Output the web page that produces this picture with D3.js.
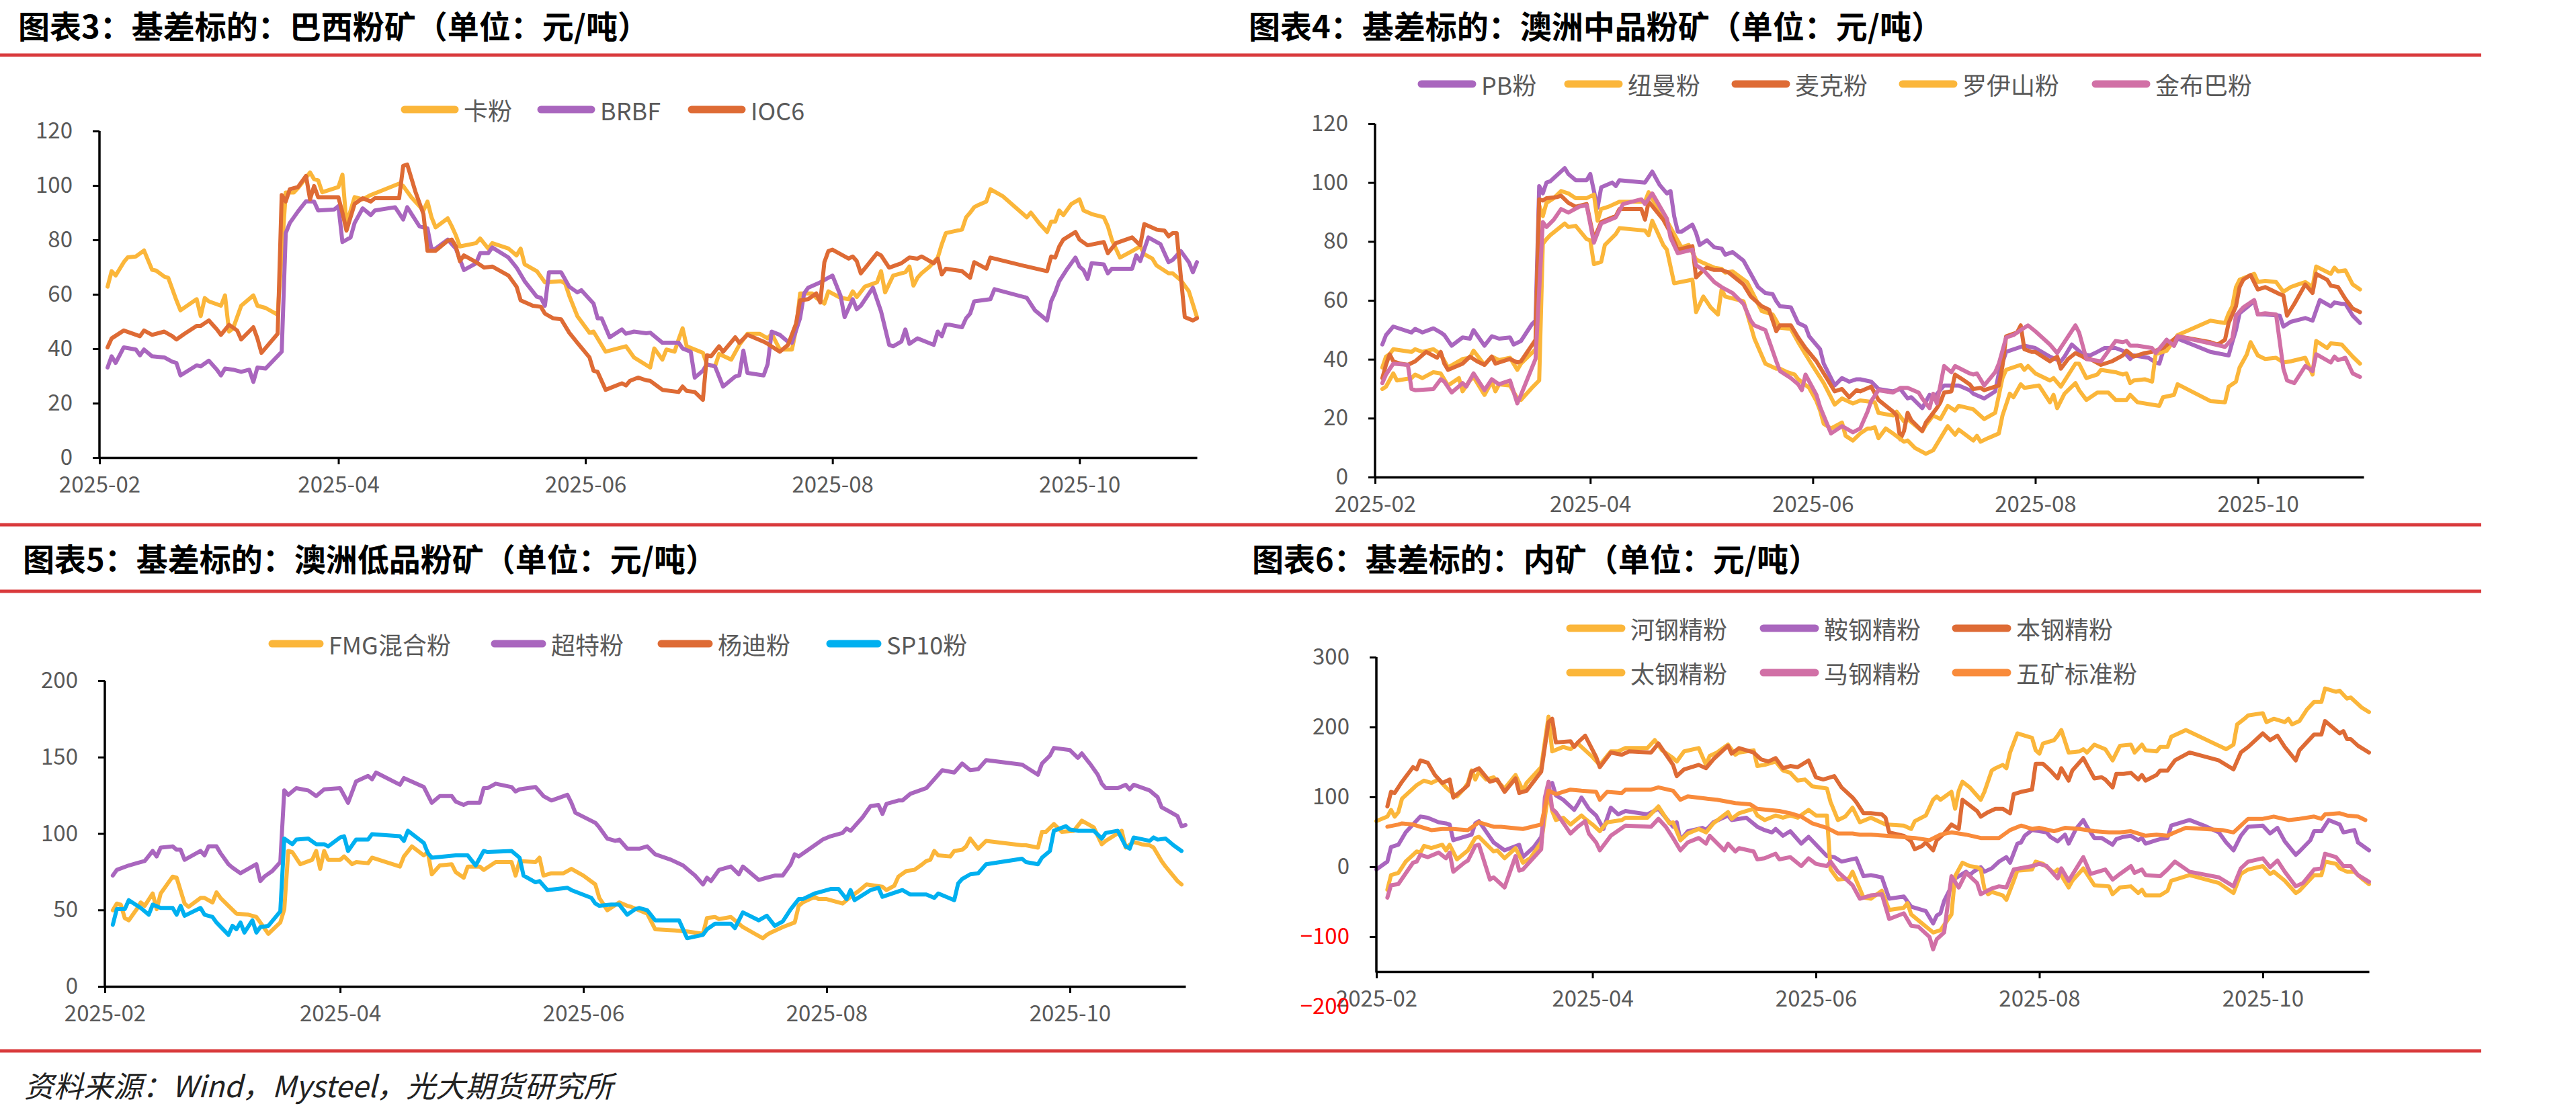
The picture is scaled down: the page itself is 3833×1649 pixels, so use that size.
<!DOCTYPE html>
<html>
<head>
<meta charset="utf-8">
<script src="https://cdn.jsdelivr.net/npm/d3@7"></script>
<style>
  body { margin: 0; background: #fff; }
  svg { display: block; font-family: "Noto Sans CJK SC", "Noto Sans", sans-serif; }
</style>
</head>
<body>
<svg id="chart" width="3833" height="1649"></svg>
<script>
// every series is [day, basis] with day counted from 2025-02-01
const monthTickLabels = ['2025-02', '2025-04', '2025-06', '2025-08', '2025-10'];

// ---- 图表3 巴西粉矿
const brazilNames = ['卡粉', 'BRBF', 'IOC6'];
const kaFen = [[2,62.8],[3,68.5],[4,66.9],[6,71.8],[7,73.6],[9,73.9],[11,76.1],[13,69],[14,68.7],[16,66.5],[17,66],[19,57.8],[20,54.1],[24,58.2],[25,52],[26,58.6],[27,57.4],[30,55.8],[31,59.6],[32,46.3],[33,47.5],[35,55.8],[38,59.6],[39,55.8],[41,55],[44,52.5],[46,97.4],[48,97.4],[49,99],[52,104.8],[53,102.3],[54,101.9],[55,97.5],[59,99.4],[60,104],[61,85.8],[63,95.7],[65,94.9],[67,96.5],[74,100.7],[75,99.8],[77,95.7],[80,90.8],[81,94.1],[82,88.3],[83,84.6],[86,87.9],[87,85],[88,81.7],[89,77.6],[93,78.8],[94,80.5],[96,76.8],[97,78.8],[101,76.8],[103,74.3],[104,76.8],[105,71],[108,68.5],[110,64.4],[114,64.8],[115,64],[116,59.5],[118,52],[121,45.9],[122,46.3],[125,38.9],[130,40.9],[132,36.8],[135,34],[136,33.1],[137,40.1],[139,36],[140,39.7],[142,38.9],[143,43.4],[144,47.5],[145,40.9],[149,38.5],[150,34.3],[152,33.5],[153,38.1],[156,36],[158,41.4],[160,45.5],[163,45.5],[165,43.8],[166,45.5],[168,39.7],[171,39.7],[172,47.1],[173,60.3],[176,60.3],[177,58.7],[179,56.6],[180,61.1],[181,60.3],[183,58.7],[185,58.2],[186,61.1],[187,59],[189,62.8],[192,64.4],[193,68.5],[194,60.7],[196,66.9],[199,68.1],[200,70.2],[201,63.2],[202,66.1],[203,67.7],[205,70.2],[207,73.5],[208,78.4],[209,82.5],[213,83.8],[214,88.3],[215,90],[216,92],[217,92.8],[219,94.1],[220,98.6],[223,96.1],[229,88.3],[230,90],[232,86.2],[234,82.9],[235,86.7],[236,86.7],[237,90.8],[238,89.1],[240,93.2],[242,94.9],[243,90.8],[245,89.5],[248,88.3],[249,85],[250,80],[252,73.5],[255,75.9],[257,77.6],[258,74.7],[260,73.1],[261,70.6],[264,67.7],[265,67.7],[267,65.2],[269,61.1],[271,51.6]];
const brbf = [[2,33.1],[3,37.2],[4,34.8],[6,40.5],[9,39.7],[10,37.6],[11,39.7],[13,37.2],[16,36.8],[18,35.2],[19,34.8],[20,30.2],[24,33.9],[25,33.5],[27,35.6],[29,32.3],[30,30.2],[31,32.7],[33,32.3],[35,31.5],[37,32.3],[38,27.8],[39,33.1],[41,32.7],[45,38.9],[46,82.5],[47,86.2],[49,90.4],[51,94.2],[53,94.1],[54,90.8],[58,91.2],[59,92.4],[60,79.2],[62,80.9],[63,86.2],[65,91.6],[67,89.1],[68,90.8],[73,92],[75,87.5],[76,92],[79,85],[81,84.2],[82,76.4],[83,76.8],[86,80.1],[88,76.8],[90,68.9],[93,71.4],[94,75.1],[96,75.1],[97,77.2],[101,73.5],[103,69.8],[105,64.8],[108,59.1],[109,58.7],[110,55.8],[111,68.1],[114,68.1],[116,62.8],[118,60.7],[119,61.5],[122,56.6],[123,51.2],[124,51.2],[126,44.2],[129,47.1],[130,45.5],[132,46.3],[135,45.7],[136,45.9],[139,42.2],[143,42.2],[144,40.1],[146,38.9],[147,29.4],[149,31.9],[150,34.3],[152,33.5],[154,26.1],[157,29.8],[158,30.2],[159,39.3],[160,31.1],[164,30.2],[165,34.3],[166,46.3],[168,45.1],[170,42.6],[171,42.2],[173,51.2],[174,60.3],[175,62.4],[178,64.4],[180,66.1],[181,66.9],[183,59.5],[184,51.6],[186,58.2],[187,54.5],[188,55.8],[191,62.4],[193,53.7],[195,41.4],[196,40.9],[198,42.6],[199,47.1],[200,41.8],[202,43.8],[206,41.4],[207,46.3],[208,44.6],[209,48.8],[210,48.8],[213,47.9],[214,51.2],[215,52.9],[216,57.4],[220,58.2],[221,61.9],[229,58.7],[231,54.1],[234,50.4],[235,57.4],[236,60.7],[237,64.8],[239,69.4],[241,73.5],[242,70.2],[243,68.9],[244,65.7],[245,71.4],[248,71],[249,67.7],[250,69.4],[255,69.4],[256,74.3],[257,72.2],[259,80.9],[262,78.4],[264,71.8],[265,72.6],[267,75.9],[269,71.8],[270,68.1],[271,71.8]];
const ioc6 = [[2,40.5],[3,43.8],[6,46.7],[10,44.6],[11,46.7],[13,45.1],[16,46.3],[18,44.6],[19,43.4],[21,45.5],[24,48.4],[25,48.4],[27,50.4],[29,47.1],[30,45.1],[32,48.8],[34,46.7],[35,43.4],[38,47.9],[39,43.8],[40,38.5],[44,45.5],[45,96.5],[46,94.1],[47,98.6],[49,99.4],[51,103.5],[52,94.9],[53,99.8],[54,95.7],[59,95.7],[60,90],[61,83.4],[63,93.2],[65,95.3],[67,94.1],[68,95.3],[74,95.3],[75,107.2],[76,107.7],[78,97.8],[80,89.5],[81,76],[83,76],[86,79.7],[87,80.1],[88,77.6],[89,72.2],[90,74.3],[93,71.8],[95,69.8],[97,70.2],[101,66.9],[103,62.8],[104,57.8],[107,55.8],[109,55.4],[110,52.9],[112,51.2],[114,50.8],[116,45.9],[118,42.2],[121,36.8],[122,31.9],[123,31.5],[125,24.9],[129,27.3],[130,26.5],[131,28.2],[133,29.4],[135,28.4],[136,28.2],[139,24.9],[143,24.1],[144,26.1],[145,24.5],[147,24.1],[149,21.2],[150,37.6],[151,37.2],[153,40.9],[154,38.9],[157,44.2],[158,42.2],[160,45.1],[164,42.6],[165,41.8],[168,38.9],[170,41.4],[172,49.2],[173,57.8],[175,58.2],[177,60.3],[178,57],[179,71.8],[180,75.9],[181,76.4],[185,73.1],[186,73.9],[187,72.2],[188,67.7],[190,71.4],[192,75.1],[193,74.3],[195,69.8],[198,71.4],[200,73.5],[202,73.1],[203,73.9],[206,71.4],[207,73.1],[208,67.3],[209,69.4],[213,68.5],[215,66.1],[216,71.8],[219,69.4],[220,73.5],[229,70.2],[234,68.5],[235,73.9],[236,73.5],[237,77.6],[238,80.1],[241,82.9],[242,80.1],[244,78],[248,79.2],[249,75.1],[251,78.8],[255,80.9],[257,78],[258,85.8],[261,83.8],[263,83.4],[264,81.3],[265,82.5],[266,82.5],[267,66.9],[268,51.6],[270,50.4],[271,51.2]];

// ---- 图表4 澳洲中品粉矿
const ausMidNames = ['PB粉', '纽曼粉', '麦克粉', '罗伊山粉', '金布巴粉'];
const pbFen = [[2,45],[3,48.2],[5,51.1],[10,49.1],[11,50.3],[13,49.1],[16,50.5],[18,49.1],[19,48.2],[21,44.6],[24,47.4],[26,47],[27,49.9],[30,44.6],[32,47.8],[34,47],[37,47.4],[38,45],[40,46.2],[43,51.9],[44,53.1],[45,98.8],[46,96.3],[47,100],[48,100.4],[52,104.9],[53,102.9],[55,100.8],[58,100.8],[59,102.9],[61,91.4],[62,98.4],[65,100],[66,98.8],[67,100.8],[74,100],[76,103.7],[78,99.2],[80,96.3],[81,97.1],[82,88.6],[83,83.3],[84,83.3],[87,85.7],[88,82.9],[89,78.8],[91,80.4],[93,78],[95,77.6],[96,75.5],[98,76.4],[101,73.5],[103,69],[105,64.5],[107,62.5],[109,62.1],[110,59.7],[111,58],[114,57.6],[116,52.3],[118,51.1],[119,47.8],[122,43.4],[123,38.5],[126,31.1],[128,33.6],[130,32.4],[132,33.2],[133,33.2],[136,32.4],[138,29.9],[142,29.1],[144,29.9],[146,26.7],[147,27.1],[150,23.4],[152,27.9],[153,26.7],[156,31.1],[160,31.1],[163,29.5],[164,28.3],[167,26.7],[170,29.1],[171,35.2],[173,42.5],[178,44.6],[181,43.8],[185,40.9],[188,39.3],[189,40.9],[191,45],[194,41.7],[196,41.3],[198,42.5],[200,43.8],[203,43.8],[205,42.9],[207,40.1],[208,41.3],[212,40.5],[214,38.9],[215,38.5],[217,46.6],[219,44.6],[220,47],[229,42.5],[234,41.3],[235,45.8],[236,49.9],[237,55.6],[239,57.6],[241,59.7],[242,55.2],[244,55.2],[248,54.8],[249,51.1],[251,52.7],[255,54],[257,53.1],[259,60.1],[262,58],[263,59.3],[265,58.8],[266,58.8],[268,54.8],[270,52.3]];
const niuMan = [[2,37.2],[3,40.9],[4,41.7],[5,43.4],[10,42.5],[11,43.4],[13,42.5],[16,43.4],[18,41.7],[20,37.2],[24,40.1],[26,40.5],[27,42.9],[30,38.1],[32,40.9],[34,39.7],[37,40.5],[39,36.4],[40,38.5],[44,43.4],[45,92.3],[46,88.6],[47,93.1],[49,94.7],[51,97.1],[53,96.3],[55,94.7],[58,94.7],[60,95.9],[61,87],[62,91],[64,91.8],[67,93.5],[74,93.5],[75,96.7],[77,92.3],[80,87],[82,82.5],[84,78],[86,78.8],[88,73.9],[90,72.7],[93,71.1],[95,70.7],[96,69.4],[98,69.8],[102,66.2],[104,61.3],[106,56.4],[109,55.2],[110,53.1],[111,50.7],[114,50.3],[116,45.8],[118,41.7],[120,37.7],[123,31.9],[126,24.6],[128,26.7],[131,25],[133,26],[137,25.4],[138,21.8],[142,20.9],[143,22.2],[145,18.9],[146,19.7],[150,15.6],[151,17.7],[153,20.9],[155,19.7],[157,24.2],[159,22.6],[160,24.2],[164,23],[167,19.7],[170,21.8],[172,33.6],[173,36.4],[177,38.1],[178,36.4],[179,37.7],[181,35.2],[185,32.8],[186,33.6],[188,30.7],[192,38.5],[193,38.5],[195,33.6],[198,34.8],[199,36.4],[203,35.6],[205,34.8],[206,35.2],[207,31.9],[208,32.8],[211,33.2],[213,32.4],[214,41.7],[217,42.9],[220,48.2],[229,53.1],[233,52.3],[234,55.6],[235,58],[236,64.5],[237,67],[241,69],[242,66.2],[244,66.6],[247,66.2],[249,62.9],[251,64.5],[253,65.4],[255,66.2],[257,64.5],[258,71.5],[262,69],[263,71.1],[264,69.8],[266,70.2],[268,65.4],[270,63.7]];
const maiKe = [[2,33.6],[3,38.1],[4,41.7],[5,39.3],[7,38.5],[9,38.1],[11,39.3],[14,42.5],[17,40.5],[18,42.5],[19,38.5],[20,36.4],[24,38.5],[26,40.9],[28,39.3],[30,38.1],[32,40.9],[33,38.5],[37,40.1],[39,38.9],[40,39.3],[44,46.6],[45,94.3],[46,93.9],[47,94.7],[50,95.1],[51,95.5],[53,93.1],[55,91.8],[58,92.7],[60,80.8],[62,86.6],[66,88.6],[67,91],[73,91],[74,87.4],[75,93.5],[79,87.4],[81,82.9],[83,77.2],[87,78.4],[88,67.8],[90,70.3],[91,71.1],[93,70.3],[95,70.3],[97,69.4],[101,65.4],[103,61.3],[106,58],[108,56.8],[110,49.5],[111,51.5],[114,51.5],[116,47.4],[118,43.8],[121,39.3],[124,33.2],[126,29.1],[128,29.9],[130,27.1],[132,29.5],[133,29.1],[136,30.7],[138,26.2],[140,24.2],[142,22.2],[143,20.9],[144,12.8],[145,15.6],[146,21.8],[147,19.3],[150,15.6],[151,18.5],[154,23.4],[155,25.4],[156,28.7],[158,29.1],[159,34.8],[161,33.2],[163,31.5],[164,29.9],[166,30.3],[167,29.5],[171,31.1],[172,37.7],[173,47.8],[176,49.1],[177,51.5],[178,43.4],[180,42.5],[181,42.5],[185,39.3],[187,40.9],[188,36.8],[190,40.1],[192,42.1],[194,40.9],[195,40.1],[196,40.1],[199,38.1],[200,38.5],[202,39.3],[205,41.3],[206,42.9],[208,40.9],[211,42.1],[213,42.5],[216,43.8],[220,47.8],[229,45.8],[231,45],[233,46.6],[234,52.3],[236,58],[237,64.5],[238,67],[240,68.6],[242,63.7],[244,64.5],[248,62.1],[249,61.7],[250,54.8],[252,58.8],[255,65.4],[257,62.5],[258,69],[261,67],[262,65],[264,64.5],[266,60.5],[268,57.2],[270,56]];
const royHill = [[2,29.9],[3,30.7],[5,35.2],[6,32.8],[10,33.6],[11,34.8],[13,33.6],[16,35.6],[18,35.2],[20,31.1],[23,33.6],[24,29.1],[26,32.8],[27,34],[30,27.9],[32,32.4],[33,29.1],[34,31.5],[37,31.1],[39,26.7],[40,26.2],[43,30.3],[45,32.8],[46,79.2],[47,80.8],[48,82.1],[52,86.1],[53,84.9],[55,85.3],[58,80.8],[59,80.4],[60,72.3],[62,73.1],[63,78.8],[66,82.5],[67,84.5],[74,83.7],[75,82.1],[76,87],[79,78.8],[80,77.2],[82,65.8],[87,67],[88,56],[90,61.3],[92,57.6],[94,55.2],[95,63.7],[96,61.3],[101,59.7],[102,55.6],[104,47],[107,38.5],[110,36.8],[111,36.8],[113,35.6],[115,34.8],[116,33.2],[119,30.3],[121,25.8],[122,22.6],[123,18.1],[125,16.5],[128,18.5],[129,14],[131,12.4],[133,14.8],[135,16.5],[136,16.5],[137,16.9],[138,13.2],[140,16.5],[142,14.8],[145,12],[146,12.4],[148,9.9],[151,7.9],[153,9.1],[157,17.3],[159,14.4],[160,16.1],[164,12.4],[165,14],[166,12],[168,13.2],[171,14.8],[172,20.9],[174,28.3],[175,27.1],[177,31.5],[178,30.3],[180,30.7],[182,31.1],[185,25.4],[186,27.9],[187,23.4],[189,28.3],[192,31.9],[193,29.5],[195,26.2],[198,28.7],[201,28.7],[203,26.2],[206,26.2],[207,27.9],[209,25.4],[213,24.6],[215,24.2],[216,27.1],[219,27.9],[220,31.5],[229,25.8],[233,25.4],[234,30.7],[236,32.4],[237,37.2],[239,41.7],[240,45.8],[242,41.3],[244,40.1],[247,40.5],[249,38.9],[251,39.3],[255,40.5],[257,34.8],[258,46.2],[261,43.8],[262,45.4],[265,45],[268,40.9],[270,38.5]];
const jinBuBa = [[2,31.9],[3,34.8],[5,38.5],[9,38.1],[10,29.9],[11,29.5],[16,29.9],[18,33.2],[19,32.4],[21,28.7],[24,31.9],[25,30.7],[27,35.2],[30,29.5],[32,33.2],[34,31.5],[37,32.8],[39,25],[40,27.9],[44,40.1],[46,86.6],[47,84.9],[49,87.4],[51,91],[53,89.8],[56,91.8],[58,92.3],[60,79.6],[62,86.1],[66,88.2],[68,92.7],[73,94.3],[74,92.7],[76,96.3],[80,87.8],[81,81.3],[83,76],[87,77.2],[88,71.9],[90,70.3],[93,66.2],[95,64.5],[98,62.5],[101,58.8],[103,53.1],[104,51.5],[107,49.9],[110,39.3],[111,36],[114,33.6],[116,31.5],[117,29.5],[118,34.8],[121,27.9],[122,23.8],[125,14.8],[128,17.3],[131,15.2],[133,16.5],[135,22.2],[136,25.8],[138,29.5],[142,28.7],[144,30.3],[146,30.3],[149,28.7],[150,26.7],[152,23.4],[153,28.3],[154,25],[156,37.7],[158,35.6],[159,37.7],[163,35.2],[164,34.8],[165,35.2],[167,31.1],[170,35.6],[171,38.5],[173,47.4],[175,48.2],[177,49.9],[179,51.5],[181,49.5],[185,45],[187,42.1],[192,51.5],[193,49.1],[195,40.1],[199,39.3],[203,46.2],[205,45.8],[206,46.2],[207,44.6],[209,44.6],[213,43.8],[214,42.1],[217,46.6],[219,44.6],[220,47.8],[229,45.4],[233,44.2],[235,47],[236,54.8],[238,57.6],[241,60.1],[242,55.2],[244,55.6],[247,55.2],[249,36.8],[250,32.8],[252,31.9],[255,37.7],[257,36],[258,41.7],[262,38.9],[263,40.9],[264,39.7],[266,40.5],[268,35.2],[270,34]];

// ---- 图表5 澳洲低品粉矿
const ausLowNames = ['FMG混合粉', '超特粉', '杨迪粉', 'SP10粉'];
const fmgMix = [[2,49.8],[3,54.2],[4,53.5],[5,44.7],[6,43.2],[8,50.5],[9,54.9],[10,52.7],[12,60.8],[13,50.5],[14,60.8],[17,71.8],[18,71.1],[20,54.2],[21,52],[24,57.9],[25,57.9],[27,54.9],[28,61.5],[29,57.9],[31,52.7],[33,47.6],[36,46.9],[38,45.4],[39,41.8],[41,34.4],[44,41.8],[45,50.5],[46,88.6],[47,87.9],[49,79.9],[52,82.8],[53,88.6],[54,76.9],[55,88.6],[56,82.8],[59,82.8],[60,85],[62,79.9],[63,81.3],[66,80.6],[67,84.2],[74,78.4],[75,85],[77,91.6],[80,85.7],[81,87.9],[82,73.3],[84,79.1],[87,79.9],[88,74.7],[90,71.1],[91,78.4],[94,78.4],[95,76.2],[98,81.3],[102,81.3],[103,72.5],[104,82],[108,81.3],[109,84.2],[110,72.5],[112,74],[115,74],[117,76.9],[120,72.5],[123,66.7],[124,57.9],[126,49.8],[129,54.9],[131,52.7],[132,52],[134,49.8],[136,47.6],[138,37.4],[143,36.6],[146,35.9],[150,34.4],[151,44.7],[153,45.4],[154,44],[157,45.4],[158,43.2],[160,38.8],[163,34.4],[165,31.5],[166,33.7],[167,35.2],[170,38.8],[173,41.8],[174,52.7],[175,54.9],[178,58.6],[179,57.1],[181,57.1],[185,54.2],[187,58.6],[189,62.3],[191,66.7],[195,65.2],[196,63],[198,65.9],[199,71.8],[201,75.5],[203,76.2],[205,79.9],[206,82],[207,82.8],[208,88.6],[209,85.7],[212,85],[213,88.6],[215,89.4],[216,91.6],[217,96.7],[219,90.1],[221,95.2],[230,92.3],[231,92.3],[234,90.8],[235,101.1],[236,101.1],[238,106.2],[240,101.1],[243,101.8],[245,108.4],[248,104],[250,93],[251,95.2],[255,101.8],[256,90.8],[258,94.5],[260,93],[262,92.3],[263,90.8],[265,82],[266,78.4],[269,68.9],[270,66.7]];
const chaoTe = [[2,72.5],[3,76.2],[6,79.1],[8,80.6],[10,82],[12,88.6],[13,85],[14,90.8],[17,91.6],[18,89.4],[19,89.4],[20,82.8],[24,88.6],[25,85.7],[26,91.6],[28,91.6],[29,87.2],[31,79.9],[32,77.7],[34,74],[38,79.9],[39,68.9],[40,71.8],[42,75.5],[44,81.3],[45,128.2],[46,125.3],[48,129.7],[51,128.2],[53,124.5],[55,128.9],[59,129.7],[61,120.1],[63,134.1],[66,137.7],[67,135.5],[68,139.9],[74,131.9],[75,136.3],[80,130.4],[82,120.1],[84,124.5],[87,124.5],[88,120.9],[90,118.7],[91,120.1],[94,120.1],[95,129.7],[96,129.7],[98,132.6],[102,130.4],[103,127.5],[104,128.9],[108,130.4],[110,124.5],[112,121.6],[116,125.3],[117,120.1],[118,113.6],[123,107],[124,104],[126,96.7],[128,95.2],[129,96],[131,90.1],[134,90.1],[136,91.6],[138,86.4],[142,82.8],[145,79.1],[148,72.5],[150,66.7],[151,71.1],[152,68.9],[154,76.2],[157,78.4],[159,73.3],[160,78.4],[164,69.6],[166,71.1],[168,72.5],[170,72.5],[172,79.9],[173,86.4],[174,85],[178,92.3],[180,96],[182,98.2],[185,100.4],[186,103.3],[187,101.8],[190,110.6],[192,117.9],[194,118.7],[195,112.8],[196,119.4],[199,121.6],[200,121.6],[202,126],[206,129.7],[208,135.5],[210,141.4],[213,139.9],[215,145.8],[217,141.4],[219,142.1],[221,148],[230,145.1],[234,138.5],[235,145.8],[237,150.9],[238,156],[242,154.6],[244,149.5],[245,152.4],[247,145.8],[249,138.5],[250,132.6],[251,129.7],[254,129.7],[256,131.9],[257,128.9],[258,131.9],[262,128.2],[264,123.8],[265,117.2],[267,114.3],[269,111.4],[270,104.8],[271,105.5]];
const yangDi = []; // listed in the legend, no line visible in the chart
const sp10 = [[2,40.3],[3,50.5],[5,50.5],[6,56.4],[9,51.3],[11,46.9],[12,53.5],[14,51.3],[17,51.3],[18,46.9],[19,52.7],[20,46.2],[24,51.3],[25,46.9],[27,45.4],[28,41.8],[31,33.7],[32,39.6],[33,37.4],[34,41.8],[35,35.2],[37,43.2],[38,35.2],[39,38.8],[41,39.6],[44,49.1],[45,96.7],[47,93],[48,96],[51,96.7],[53,93],[55,93],[56,91.6],[59,97.4],[60,98.2],[61,88.6],[63,96],[66,96],[67,99.6],[74,98.2],[75,95.2],[76,101.8],[80,93.8],[81,87.2],[82,84.2],[88,85.7],[91,85.7],[93,79.1],[95,88.6],[96,87.9],[102,88.6],[104,84.2],[105,72.5],[108,68.1],[109,68.9],[111,63],[116,64.5],[117,63],[122,57.9],[123,54.2],[124,52.7],[127,53.5],[129,53.5],[131,46.9],[133,50.5],[134,51.3],[136,49.8],[138,43.2],[144,43.2],[146,31.5],[150,33.7],[151,37.4],[153,41],[157,41],[158,38.1],[160,48.4],[164,43.2],[166,46.2],[168,39.6],[170,42.5],[172,50.5],[174,57.1],[175,57.1],[178,60.8],[179,61.5],[182,63.7],[184,63.7],[186,57.1],[187,63],[188,56.4],[192,63],[194,64.5],[195,58.6],[200,63],[202,60.1],[206,60.1],[208,57.9],[209,60.8],[213,56.4],[214,67.4],[215,70.3],[217,73.3],[219,74],[221,79.9],[230,83.5],[231,81.3],[234,79.9],[235,84.2],[237,88.6],[238,101.8],[241,104.8],[242,102.6],[244,101.8],[248,101.8],[250,96.7],[251,100.4],[254,101.8],[256,91.6],[257,90.1],[258,97.4],[262,95.2],[263,97.4],[264,96],[266,96.7],[268,92.3],[270,88.6]];

// ---- 图表6 内矿
const domesticNames = ['河钢精粉', '鞍钢精粉', '本钢精粉', '太钢精粉', '马钢精粉', '五矿标准粉'];
const heGang = [[0,65.3],[3,71.8],[4,81.4],[5,71.8],[6,78.2],[7,97.5],[11,116.8],[13,123.3],[15,120],[17,124.9],[19,113.6],[20,108.8],[22,100.7],[24,112],[25,120],[26,137.8],[27,124.9],[28,136.1],[30,124.9],[32,128.1],[35,112],[38,131.3],[40,108.8],[41,120],[45,142.6],[47,215],[48,165.1],[51,171.5],[53,168.3],[55,176.4],[56,171.5],[59,157.1],[61,145.8],[64,165.1],[66,165.1],[68,169.9],[74,169.9],[76,181.2],[78,166.7],[81,155.5],[82,150.6],[84,165.1],[88,169.9],[90,145.8],[91,158.7],[93,163.5],[96,174.8],[98,160.3],[99,163.5],[103,166.7],[104,144.2],[106,145.8],[109,150.6],[111,137.8],[113,134.5],[115,123.3],[117,124.9],[119,115.2],[123,112],[124,92.7],[126,66.9],[128,71.8],[130,84.6],[132,63.7],[135,70.2],[139,60.5],[144,58.9],[146,54.1],[147,65.3],[150,73.4],[152,95.9],[153,100.7],[154,95.9],[157,107.2],[158,83],[159,108.8],[160,121.7],[162,113.6],[165,95.9],[166,107.2],[168,137.8],[169,141],[171,145.8],[172,141],[173,163.5],[175,190.9],[176,189.3],[179,184.4],[180,166.7],[181,161.9],[182,176.4],[185,181.2],[186,187.6],[187,195.7],[189,163.5],[192,165.1],[193,168.3],[194,163.5],[196,174.8],[199,168.3],[201,152.2],[203,173.2],[206,174.8],[207,163.5],[209,174.8],[210,166.7],[213,165.1],[214,171.5],[216,171.5],[217,186],[221,195.7],[232,168.3],[234,174.8],[235,203.7],[237,211.8],[238,216.6],[242,219.8],[243,207],[245,211.8],[248,207],[249,211.8],[250,203.7],[252,208.6],[254,224.7],[256,235.9],[258,235.9],[259,255.2],[262,250.4],[263,252],[265,240.7],[266,242.3],[269,227.9],[271,221.4]];
const anGang = [[0,-3.9],[3,7.4],[4,28.3],[6,31.5],[8,49.2],[10,60.5],[12,71.8],[14,70.2],[17,63.7],[19,62.1],[20,60.5],[21,38],[26,46],[27,62.1],[28,65.3],[32,34.8],[35,23.5],[39,31.5],[40,13.8],[43,28.3],[45,42.8],[47,116.8],[48,120],[49,102.3],[51,95.9],[54,81.4],[55,89.5],[56,99.1],[58,83],[60,73.4],[62,54.1],[64,84.6],[66,75],[68,79.8],[74,75],[77,83],[79,70.2],[81,57.3],[82,63.7],[83,38],[85,50.9],[89,55.7],[90,52.5],[92,63.7],[96,73.4],[97,66.9],[101,70.2],[104,57.3],[106,52.5],[108,49.2],[109,54.1],[111,44.4],[113,50.9],[116,33.1],[118,42.8],[123,15.4],[125,13.8],[127,7.4],[131,12.2],[133,-13.5],[135,-11.9],[138,-15.1],[140,-45.7],[144,-42.5],[146,-57],[150,-63.4],[152,-81.1],[153,-69.8],[154,-66.6],[155,-48.9],[157,-28],[158,-16.7],[161,-7.1],[162,-11.9],[163,-7.1],[165,-0.6],[166,-7.1],[168,-2.3],[170,7.4],[172,13.8],[173,5.8],[175,33.1],[176,34.8],[177,44.4],[179,52.5],[181,50.9],[183,49.2],[184,42.8],[186,36.4],[188,46],[189,33.1],[191,54.1],[193,66.9],[194,57.3],[196,41.2],[198,41.2],[201,31.5],[202,39.6],[204,42.8],[206,44.4],[208,38],[209,41.2],[210,33.1],[213,38],[214,39.6],[216,41.2],[217,58.9],[222,66.9],[226,58.9],[230,49.2],[232,34.8],[234,23.5],[236,44.4],[238,57.3],[242,58.9],[244,47.6],[246,55.7],[248,36.4],[251,17.1],[252,21.9],[255,38],[256,50.9],[258,50.9],[260,66.9],[263,60.5],[264,49.2],[267,52.5],[268,34.8],[271,23.5]];
const benGang = [[3,86.3],[4,107.2],[5,105.6],[7,121.7],[10,142.6],[11,139.4],[12,152.2],[14,149],[16,131.3],[18,120],[20,124.9],[21,99.1],[24,112],[25,116.8],[26,136.1],[28,141],[31,121.7],[33,124.9],[35,107.2],[38,126.5],[39,105.6],[41,108.8],[45,136.1],[47,207],[48,211.8],[49,178],[53,179.6],[54,171.5],[55,178],[57,187.6],[60,157.1],[61,142.6],[64,163.5],[67,160.3],[69,165.1],[75,163.5],[77,176.4],[81,145.8],[82,129.7],[84,139.4],[88,145.8],[90,141],[92,153.8],[96,173.2],[97,161.9],[99,169.9],[103,163.5],[105,153.8],[107,150.6],[109,155.5],[111,141],[113,144.2],[115,142.6],[118,152.2],[120,128.1],[122,124.9],[125,129.7],[127,113.6],[130,99.1],[131,92.7],[133,76.6],[135,76.6],[138,75],[139,70.2],[140,49.2],[144,44.4],[146,36.4],[147,25.1],[149,29.9],[150,34.8],[152,23.5],[153,38],[155,47.6],[157,60.5],[159,54.1],[160,95.9],[162,87.9],[164,79.8],[165,71.8],[167,78.2],[169,83],[171,83],[173,76.6],[174,104],[176,107.2],[179,110.4],[180,147.4],[182,147.4],[184,137.8],[186,126.5],[187,141],[189,123.3],[190,137.8],[193,155.5],[194,145.8],[196,126.5],[198,128.1],[199,124.9],[201,113.6],[202,132.9],[204,132.9],[206,134.5],[208,124.9],[209,131.3],[210,123.3],[213,131.3],[214,137.8],[216,137.8],[218,152.2],[222,163.5],[230,152.2],[234,139.4],[236,163.5],[238,171.5],[242,190.9],[244,181.2],[246,187.6],[248,171.5],[251,152.2],[252,166.7],[256,189.3],[258,189.3],[259,208.6],[263,190.9],[264,194.1],[265,182.8],[266,182.8],[268,173.2],[271,163.5]];
const taiGang = [[3,-32.8],[4,-11.9],[6,-8.7],[8,7.4],[11,21.9],[12,20.3],[13,29.9],[15,26.7],[18,31.5],[19,23.5],[20,31.5],[22,10.6],[25,23.5],[27,41.2],[28,42.8],[32,21.9],[33,23.5],[35,12.2],[38,26.7],[40,5.8],[42,12.2],[45,34.8],[47,107.2],[48,79.8],[49,66.9],[51,70.2],[53,60.5],[56,73.4],[57,68.6],[59,60.5],[61,50.9],[63,63.7],[67,66.9],[68,70.2],[74,70.2],[77,86.3],[80,62.1],[81,63.7],[83,38],[85,47.6],[88,54.1],[90,49.2],[92,62.1],[96,78.2],[97,68.6],[99,76.6],[103,83],[104,73.4],[106,66.9],[109,73.4],[111,70.2],[113,73.4],[115,70.2],[118,81.4],[120,73.4],[123,73.4],[124,-3.9],[126,-18.3],[129,-16.7],[130,-7.1],[133,-44.1],[135,-45.7],[138,-34.4],[140,-61.8],[144,-58.6],[145,-52.1],[146,-68.2],[149,-81.1],[152,-94],[154,-90.8],[157,-68.2],[158,-13.5],[160,5.8],[162,1],[164,-0.6],[165,-3.9],[166,-31.2],[167,-39.3],[168,-36],[171,-40.9],[172,-47.3],[174,-20],[175,-5.5],[179,-3.9],[180,7.4],[182,4.2],[185,-8.7],[186,-3.9],[189,-29.6],[190,-20],[193,-2.3],[194,-10.3],[196,-26.4],[200,-28],[201,-39.3],[203,-29.6],[206,-28],[208,-37.6],[209,-32.8],[210,-40.9],[214,-40.9],[216,-34.4],[217,-20],[222,-11.9],[230,-23.2],[234,-37.6],[236,-10.3],[238,-3.9],[242,1],[244,-10.3],[245,-7.1],[248,-20],[251,-37.6],[252,-34.4],[256,-11.9],[258,-11.9],[259,7.4],[262,4.2],[263,-2.3],[265,-7.1],[267,-7.1],[269,-16.7],[271,-24.8]];
const maGang = [[3,-44.1],[4,-26.4],[6,-24.8],[10,5.8],[11,7.4],[12,17.1],[14,13.8],[17,20.3],[19,12.2],[20,20.3],[21,-7.1],[24,5.8],[25,9],[27,29.9],[28,31.5],[31,-18.3],[32,-15.1],[35,-29.6],[38,15.4],[39,-5.5],[40,-3.9],[45,25.1],[46,99.1],[47,121.7],[48,83],[49,78.2],[53,47.6],[55,57.3],[57,65.3],[58,47.6],[60,34.8],[61,23.5],[64,44.4],[68,58.9],[75,57.3],[77,68.6],[79,57.3],[81,41.2],[83,23.5],[85,34.8],[88,41.2],[90,33.1],[91,44.4],[95,23.5],[96,33.1],[98,21.9],[99,26.7],[103,21.9],[104,10.6],[106,12.2],[109,18.7],[110,10.6],[113,13.8],[116,1],[118,12.2],[120,4.2],[123,1],[124,7.4],[126,-7.1],[130,-26.4],[132,-45.7],[135,-40.9],[138,-39.3],[140,-74.7],[144,-66.6],[146,-84.3],[148,-85.9],[151,-100.4],[152,-118.1],[153,-103.6],[155,-94],[157,-13.5],[159,-29.6],[161,-8.7],[164,-23.2],[165,-39.3],[168,-31.2],[170,-28],[172,-29.6],[174,-3.9],[179,1],[181,4.2],[183,1],[186,-16.7],[187,-2.3],[189,-20],[193,13.8],[195,-10.3],[199,-3.9],[201,-18.3],[203,-10.3],[206,1],[207,-8.7],[209,-3.9],[210,-11.9],[214,-13.5],[216,-3.9],[218,7.4],[222,-7.1],[230,-15.1],[234,-28],[236,-2.3],[238,7.4],[242,12.2],[244,-0.6],[246,9],[248,-7.1],[251,-28],[253,-23.2],[256,-3.9],[258,-2.3],[259,18.7],[262,13.8],[264,1],[266,1],[268,-11.9],[271,-21.5]];
const wuKuang = [[3,57.3],[6,60.5],[7,62.1],[10,60.5],[13,55.7],[15,52.5],[18,54.1],[21,54.1],[25,52.5],[28,63.7],[32,57.3],[34,57.3],[40,54.1],[45,60.5],[47,108.8],[49,104],[53,110.4],[56,108.8],[60,107.2],[61,95.9],[63,107.2],[67,105.6],[68,110.4],[75,110.4],[77,113.6],[81,108.8],[83,95.9],[85,100.7],[90,97.5],[93,95.9],[98,91.1],[102,89.5],[104,83],[110,79.8],[113,76.6],[116,71.8],[119,62.1],[123,55.7],[126,47.6],[130,47.6],[132,46],[135,46],[139,44.4],[143,42.8],[147,41.2],[151,38],[154,46],[157,49.2],[161,46],[165,41.2],[170,41.2],[173,52.5],[176,58.9],[179,54.1],[181,55.7],[185,50.9],[188,55.7],[192,54.1],[196,50.9],[200,49.2],[203,49.2],[206,50.9],[210,44.4],[213,46],[216,44.4],[218,49.2],[221,55.7],[231,52.5],[234,49.2],[236,58.9],[238,68.6],[242,68.6],[245,71.8],[249,66.9],[252,68.6],[256,71.8],[258,68.6],[259,75],[263,76.6],[265,73.4],[268,71.8],[270,66.9]];

const YELLOW = '#FBB63A', PURPLE = '#A966BE', RUST = '#DE6B35', PINK = '#D170A6', CYAN = '#00B0F0', ORANGE = '#F98B3B';
const RED_RULE = '#D93A3C', TEXT_GREY = '#595959';

const svg = d3.select('#chart');
const day0 = new Date(2025, 1, 1);
const dayEnd = new Date(2025, 9, 30);
const toDate = d => d3.timeDay.offset(day0, d);
const monthTicks = [1, 3, 5, 7, 9].map(m => new Date(2025, m, 1));

svg.append('rect').attr('width', 3833).attr('height', 1649).attr('fill', '#fff');

// red rules
[82, 781, 880, 1564].forEach(yy => {
  svg.append('line')
    .attr('x1', 0).attr('x2', 3692)
    .attr('y1', yy).attr('y2', yy)
    .attr('stroke', RED_RULE).attr('stroke-width', 5);
});

const panels = [
  {
    title: '图表3：基差标的：巴西粉矿（单位：元/吨）', titleX: 27, titleY: 57,
    x0: 148, x1: 1781, yDomain: [0, 120], yRange: [681, 195], yTicks: d3.range(0, 121, 20), axisAt: 0,
    legendY: [163], legendX: [597, 800, 1024], swatch: 85,
    series: [
      { name: brazilNames[0], color: YELLOW, data: kaFen },
      { name: brazilNames[1], color: PURPLE, data: brbf },
      { name: brazilNames[2], color: RUST, data: ioc6 }
    ]
  },
  {
    title: '图表4：基差标的：澳洲中品粉矿（单位：元/吨）', titleX: 1858, titleY: 57,
    x0: 2046, x1: 3517, yDomain: [0, 120], yRange: [710, 184], yTicks: d3.range(0, 121, 20), axisAt: 0,
    legendY: [125], legendX: [2110, 2328, 2577, 2826, 3113], swatch: 86,
    series: [
      { name: ausMidNames[0], color: PURPLE, data: pbFen },
      { name: ausMidNames[1], color: YELLOW, data: niuMan },
      { name: ausMidNames[2], color: RUST, data: maiKe },
      { name: ausMidNames[3], color: YELLOW, data: royHill },
      { name: ausMidNames[4], color: PINK, data: jinBuBa }
    ]
  },
  {
    title: '图表5：基差标的：澳洲低品粉矿（单位：元/吨）', titleX: 34, titleY: 850,
    x0: 156, x1: 1764, yDomain: [0, 200], yRange: [1468, 1013], yTicks: d3.range(0, 201, 50), axisAt: 0,
    legendY: [958], legendX: [400, 731, 979, 1230], swatch: 81,
    series: [
      { name: ausLowNames[0], color: YELLOW, data: fmgMix },
      { name: ausLowNames[1], color: PURPLE, data: chaoTe },
      { name: ausLowNames[2], color: RUST, data: yangDi },
      { name: ausLowNames[3], color: CYAN, data: sp10 }
    ]
  },
  {
    title: '图表6：基差标的：内矿（单位：元/吨）', titleX: 1863, titleY: 850,
    x0: 2048, x1: 3525, yDomain: [-200, 300], yRange: [1498, 978], yTicks: d3.range(-200, 301, 100), axisAt: -150,
    legendY: [935, 1001], legendX: [2331, 2619, 2905], swatch: 87,
    series: [
      { name: domesticNames[0], color: YELLOW, data: heGang },
      { name: domesticNames[1], color: PURPLE, data: anGang },
      { name: domesticNames[2], color: RUST, data: benGang },
      { name: domesticNames[3], color: YELLOW, data: taiGang },
      { name: domesticNames[4], color: PINK, data: maGang },
      { name: domesticNames[5], color: ORANGE, data: wuKuang }
    ]
  }
];

function drawPanel(p) {
  const g = svg.append('g');

  g.append('text')
    .attr('x', p.titleX).attr('y', p.titleY)
    .attr('font-size', 47).attr('font-weight', 700)
    .attr('fill', '#000')
    .text(p.title);

  const x = d3.scaleTime().domain([day0, dayEnd]).range([p.x0, p.x1]);
  const y = d3.scaleLinear().domain(p.yDomain).range(p.yRange);
  const baseY = y(p.axisAt);

  // lines
  const line = d3.line()
    .x(d => x(toDate(d[0])))
    .y(d => y(d[1]));
  p.series.forEach(s => {
    if (!s.data.length) return;
    g.append('path')
      .datum(s.data)
      .attr('d', line)
      .attr('fill', 'none')
      .attr('stroke', s.color)
      .attr('stroke-width', 6)
      .attr('stroke-linejoin', 'round')
      .attr('stroke-linecap', 'round');
  });

  // x axis
  const xa = g.append('g')
    .attr('transform', `translate(0,${baseY})`)
    .call(d3.axisBottom(x).tickValues(monthTicks)
      .tickFormat((d, i) => monthTickLabels[i])
      .tickSize(10).tickSizeOuter(0).tickPadding(19));
  xa.select('.domain').attr('stroke', '#000').attr('stroke-width', 3.5);
  xa.selectAll('.tick line').attr('stroke', '#000').attr('stroke-width', 3);
  xa.selectAll('.tick text').attr('font-size', 33).attr('fill', TEXT_GREY)
    .attr('font-family', '"Noto Sans CJK SC", sans-serif');

  // y axis
  const ya = g.append('g')
    .attr('transform', `translate(${p.x0},0)`)
    .call(d3.axisLeft(y).tickValues(p.yTicks)
      .tickSize(10).tickSizeOuter(0).tickPadding(30));
  ya.select('.domain').remove();
  ya.selectAll('.tick line').attr('stroke', '#000').attr('stroke-width', 3)
    .attr('display', d => d < p.axisAt ? 'none' : null);
  ya.selectAll('.tick text').attr('font-size', 33)
    .attr('fill', d => d < 0 ? '#FF0000' : TEXT_GREY)
    .attr('font-family', '"Noto Sans CJK SC", sans-serif');
  g.append('line')
    .attr('x1', p.x0).attr('x2', p.x0)
    .attr('y1', y(p.yDomain[1])).attr('y2', baseY + 1.5)
    .attr('stroke', '#000').attr('stroke-width', 3.5);

  // legend
  const cols = p.legendX.length;
  p.series.forEach((s, i) => {
    const lx = p.legendX[i % cols];
    const ly = p.legendY[Math.floor(i / cols)];
    g.append('line')
      .attr('x1', lx + 5).attr('x2', lx + p.swatch - 5)
      .attr('y1', ly).attr('y2', ly)
      .attr('stroke', s.color).attr('stroke-width', 11)
      .attr('stroke-linecap', 'round');
    g.append('text')
      .attr('x', lx + p.swatch + 8).attr('y', ly)
      .attr('dominant-baseline', 'central')
      .attr('font-size', 36).attr('fill', TEXT_GREY)
      .text(s.name);
  });
}

panels.forEach(drawPanel);

svg.append('text')
  .attr('x', 36).attr('y', 1614)
  .attr('dominant-baseline', 'central')
  .attr('font-size', 44).attr('font-style', 'italic')
  .attr('fill', '#222')
  .text('资料来源：Wind，Mysteel，光大期货研究所');
</script>
</body>
</html>
